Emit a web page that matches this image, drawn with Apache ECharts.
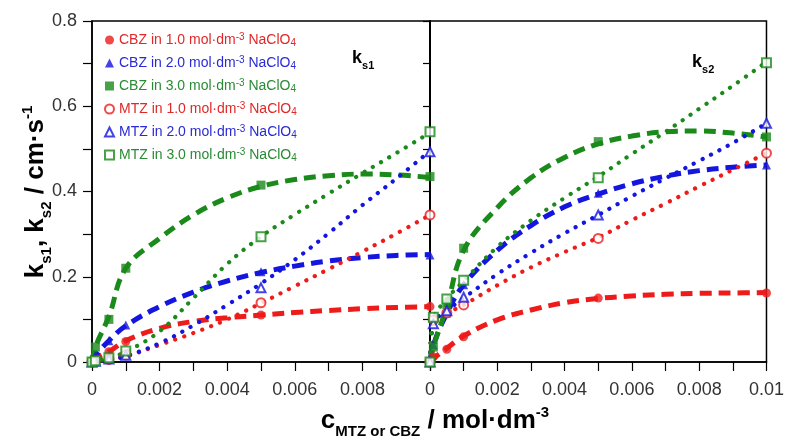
<!DOCTYPE html>
<html>
<head>
<meta charset="utf-8">
<script src="https://cdn.jsdelivr.net/npm/echarts@6/dist/echarts.min.js"></script>
<style>html,body{margin:0;padding:0;background:#fff}#c{width:787px;height:441px}</style>
</head>
<body>
<div id="c"></div>
<script>
// measured concentrations (mol dm^-3)
var conc = [0, 0.0001, 0.0005, 0.001, 0.005, 0.01];
var fitX = [0, 0.0001, 0.0005, 0.001, 0.002, 0.003, 0.004, 0.005, 0.006, 0.007, 0.008, 0.009, 0.01];
var xTicks = ['0', '0.002', '0.004', '0.006', '0.008', '0.01'];
var yTicks = ['0', '0.2', '0.4', '0.6', '0.8'];
var seriesNames = [
  'CBZ in 1.0 mol·dm-3 NaClO4',
  'CBZ in 2.0 mol·dm-3 NaClO4',
  'CBZ in 3.0 mol·dm-3 NaClO4',
  'MTZ in 1.0 mol·dm-3 NaClO4',
  'MTZ in 2.0 mol·dm-3 NaClO4',
  'MTZ in 3.0 mol·dm-3 NaClO4'
];
// ks1 (left panel) measured points
var ks1_CBZ1 = [0, 0.008, 0.024, 0.048, 0.110, 0.130];
var ks1_CBZ2 = [0, 0.015, 0.050, 0.087, 0.212, 0.251];
var ks1_CBZ3 = [0, 0.035, 0.100, 0.220, 0.415, 0.435];
var ks1_MTZ1 = [0, 0.002, 0.006, 0.017, 0.139, 0.345];
var ks1_MTZ2 = [0, 0.002, 0.007, 0.016, 0.174, 0.493];
var ks1_MTZ3 = [0, 0.003, 0.010, 0.026, 0.294, 0.540];
// ks1 fitted curves (read at fitX)
var fit1_CBZ1 = [0, 0.008, 0.024, 0.050, 0.079, 0.095, 0.104, 0.110, 0.116, 0.121, 0.125, 0.128, 0.130];
var fit1_CBZ2 = [0, 0.015, 0.050, 0.085, 0.130, 0.164, 0.190, 0.210, 0.225, 0.237, 0.245, 0.250, 0.252];
var fit1_CBZ3 = [0, 0.035, 0.107, 0.220, 0.290, 0.345, 0.385, 0.412, 0.428, 0.437, 0.441, 0.439, 0.433];
var fit1_MTZ1 = [0, 0.001, 0.006, 0.013, 0.040, 0.068, 0.100, 0.138, 0.178, 0.218, 0.259, 0.301, 0.345];
var fit1_MTZ2 = [0, 0.001, 0.006, 0.014, 0.044, 0.086, 0.134, 0.184, 0.240, 0.302, 0.368, 0.430, 0.495];
var fit1_MTZ3 = [0, 0.002, 0.010, 0.024, 0.072, 0.150, 0.230, 0.294, 0.346, 0.395, 0.443, 0.490, 0.538];
// ks2 (right panel) measured points
var ks2_CBZ1 = [0, 0.012, 0.030, 0.059, 0.150, 0.162];
var ks2_CBZ2 = [0, 0.040, 0.115, 0.181, 0.396, 0.462];
var ks2_CBZ3 = [0, 0.035, 0.135, 0.267, 0.517, 0.528];
var ks2_MTZ1 = [0, 0.098, 0.115, 0.134, 0.290, 0.490];
var ks2_MTZ2 = [0, 0.090, 0.120, 0.152, 0.345, 0.560];
var ks2_MTZ3 = [0, 0.105, 0.148, 0.192, 0.432, 0.702];
// ks2 fitted curves (read at fitX)
var fit2_CBZ1 = [0, 0.008, 0.032, 0.061, 0.099, 0.122, 0.139, 0.149, 0.155, 0.159, 0.161, 0.162, 0.163];
var fit2_CBZ2 = [0, 0.040, 0.114, 0.181, 0.262, 0.320, 0.364, 0.394, 0.418, 0.436, 0.449, 0.457, 0.462];
var fit2_CBZ3 = [0, 0.035, 0.130, 0.262, 0.362, 0.432, 0.480, 0.512, 0.530, 0.540, 0.542, 0.537, 0.528];
var fit2_MTZ1 = [0, 0.098, 0.115, 0.134, 0.180, 0.222, 0.258, 0.292, 0.333, 0.372, 0.412, 0.451, 0.490];
var fit2_MTZ2 = [0, 0.090, 0.120, 0.150, 0.206, 0.256, 0.302, 0.345, 0.389, 0.431, 0.472, 0.514, 0.560];
var fit2_MTZ3 = [0, 0.100, 0.148, 0.190, 0.270, 0.332, 0.385, 0.435, 0.488, 0.540, 0.594, 0.648, 0.704];

var RED = '#ee1b1b', BLUE = '#1515e0', GREEN = '#1a8a1a';
var colors = [RED, BLUE, GREEN, RED, BLUE, GREEN];
var symbols = ['circle', 'triangle', 'rect', 'emptyCircle', 'emptyTriangle', 'emptyRect'];
var panels = [
  { pts: [ks1_CBZ1, ks1_CBZ2, ks1_CBZ3, ks1_MTZ1, ks1_MTZ2, ks1_MTZ3],
    fit: [fit1_CBZ1, fit1_CBZ2, fit1_CBZ3, fit1_MTZ1, fit1_MTZ2, fit1_MTZ3] },
  { pts: [ks2_CBZ1, ks2_CBZ2, ks2_CBZ3, ks2_MTZ1, ks2_MTZ2, ks2_MTZ3],
    fit: [fit2_CBZ1, fit2_CBZ2, fit2_CBZ3, fit2_MTZ1, fit2_MTZ2, fit2_MTZ3] }
];

function pairs(xs, ys) { return xs.map(function (x, i) { return [x, ys[i]]; }); }

var series = [];
panels.forEach(function (p, panel) {
  p.fit.forEach(function (ys, k) {
    var dashed = k < 3;
    series.push({
      name: seriesNames[k] + ' fit', type: 'line',
      xAxisIndex: panel, yAxisIndex: panel === 0 ? 0 : 2,
      data: pairs(fitX, ys), smooth: 0.4, showSymbol: false, symbol: 'none',
      lineStyle: dashed ? { width: 5, type: [12, 7], color: colors[k] }
                        : { width: 4.2, type: [0.1, 9.5], cap: 'round', color: colors[k] },
      z: dashed ? 3 : 4, silent: true
    });
  });
  p.pts.forEach(function (ys, k) {
    series.push({
      name: seriesNames[k], type: 'scatter',
      xAxisIndex: panel, yAxisIndex: panel === 0 ? 0 : 2,
      data: pairs(conc, ys), symbol: symbols[k], symbolSize: 9,
      itemStyle: { color: colors[k], borderWidth: k < 3 ? 0 : 1 },
      z: 5
    });
  });
});

var legTxt = ['#e02828', '#2a2ad6', '#2a8a36'];
var richLeg = {};
['r', 'b', 'g'].forEach(function (k, i) {
  var c = legTxt[i];
  richLeg[k] = { color: c, fontSize: 14, fontFamily: 'Liberation Sans', lineHeight: 16 };
  richLeg[k + 'p'] = { color: c, fontSize: 10, fontFamily: 'Liberation Sans', verticalAlign: 'top', lineHeight: 16, padding: [0, 0, 7, 0] };
  richLeg[k + 'b'] = { color: c, fontSize: 10, fontFamily: 'Liberation Sans', verticalAlign: 'bottom', lineHeight: 16, padding: [6, 0, 0, 0] };
});
var keyOf = ['r', 'b', 'g', 'r', 'b', 'g'];

var axisLabelStyle = { fontSize: 18, color: '#333', fontFamily: 'Liberation Sans' };
var blackLine = { color: '#000', width: 1.5 };
var tickLine = { color: '#000', width: 1.2 };

function xAxis(grid, showMax) {
  return {
    type: 'value', gridIndex: grid, min: 0, max: 0.01, interval: 0.002,
    axisLine: { show: true, lineStyle: blackLine },
    axisTick: { show: true, length: 9, lineStyle: tickLine },
    minorTick: { show: true, splitNumber: 2, length: 9, lineStyle: tickLine },
    splitLine: { show: false },
    axisLabel: Object.assign({ margin: 19, showMaxLabel: showMax,
      formatter: function (v) { return xTicks[Math.round(v / 0.002)]; } }, axisLabelStyle)
  };
}

var option = {
  animation: false,
  backgroundColor: '#fff',
  grid: [
    { left: 92, top: 21, width: 338, height: 341, show: true, borderColor: '#000', borderWidth: 1.5 },
    { left: 430, top: 21, width: 338, height: 341, show: true, borderColor: '#000', borderWidth: 1.5 }
  ],
  xAxis: [xAxis(0, false), xAxis(1, true)],
  yAxis: [
    { type: 'value', gridIndex: 0, min: 0, max: 0.8, interval: 0.2, position: 'left',
      axisLine: { show: true, lineStyle: blackLine },
      axisTick: { show: true, length: 9, lineStyle: tickLine },
      minorTick: { show: true, splitNumber: 2, length: 9, lineStyle: tickLine },
      splitLine: { show: false },
      axisLabel: Object.assign({ margin: 15,
        formatter: function (v) { return yTicks[Math.round(v / 0.2)]; } }, axisLabelStyle) },
    { type: 'value', gridIndex: 0, min: 0, max: 0.8, interval: 0.2, position: 'right',
      axisLine: { show: true, lineStyle: blackLine },
      axisTick: { show: true, inside: true, length: 7, lineStyle: tickLine },
      minorTick: { show: true, splitNumber: 2, length: 7, lineStyle: tickLine },
      splitLine: { show: false }, axisLabel: { show: false } },
    { type: 'value', gridIndex: 1, min: 0, max: 0.8, interval: 0.2, position: 'left',
      axisLine: { show: true, lineStyle: blackLine },
      axisTick: { show: false }, splitLine: { show: false }, axisLabel: { show: false } }
  ],
  legend: {
    orient: 'vertical', left: 99, top: 27, itemGap: 6.0, itemWidth: 9, itemHeight: 9,
    selectedMode: false,
    data: seriesNames.map(function (n, i) { return { name: n, icon: symbols[i] }; }),
    formatter: function (name) {
      var i = seriesNames.indexOf(name), k = keyOf[i];
      var head = name.split(' mol')[0];
      return '{' + k + '|' + head + ' mol·dm}{' + k + 'p|-3}{' + k + '| NaClO}{' + k + 'b|4}';
    },
    textStyle: { rich: richLeg }
  },
  graphic: [
    { type: 'text', left: 352, top: 49, style: {
        text: '{k|k}{s|s1}', rich: {
          k: { fontSize: 18, fontWeight: 'bold', fontFamily: 'Liberation Sans', fill: '#000', lineHeight: 20 },
          s: { fontSize: 11, fontWeight: 'bold', fontFamily: 'Liberation Sans', fill: '#000', verticalAlign: 'bottom', lineHeight: 11, padding: [0, 0, -3, 0] } } } },
    { type: 'text', left: 692, top: 53, style: {
        text: '{k|k}{s|s2}', rich: {
          k: { fontSize: 18, fontWeight: 'bold', fontFamily: 'Liberation Sans', fill: '#000', lineHeight: 20 },
          s: { fontSize: 11, fontWeight: 'bold', fontFamily: 'Liberation Sans', fill: '#000', verticalAlign: 'bottom', lineHeight: 11, padding: [0, 0, -3, 0] } } } },
    { type: 'text', x: 36, y: 192, rotation: Math.PI / 2, style: {
        text: '{k|k}{s|s1}{k|, k}{s|s2}{k| / cm·s}{p|-1}', align: 'center', verticalAlign: 'middle',
        rich: {
          k: { fontSize: 26, fontWeight: 'bold', fontFamily: 'Liberation Sans', fill: '#000', lineHeight: 32 },
          s: { fontSize: 15, fontWeight: 'bold', fontFamily: 'Liberation Sans', fill: '#000', verticalAlign: 'bottom', lineHeight: 15, padding: [0, 0, -2, 0] },
          p: { fontSize: 15, fontWeight: 'bold', fontFamily: 'Liberation Sans', fill: '#000', verticalAlign: 'top', lineHeight: 15 } } } },
    { type: 'text', x: 435, y: 421, style: {
        text: '{k|c}{s|MTZ or CBZ}{k| / mol·dm}{p|-3}', align: 'center', verticalAlign: 'middle',
        rich: {
          k: { fontSize: 26, fontWeight: 'bold', fontFamily: 'Liberation Sans', fill: '#000', lineHeight: 32 },
          s: { fontSize: 15, fontWeight: 'bold', fontFamily: 'Liberation Sans', fill: '#000', verticalAlign: 'bottom', lineHeight: 15, padding: [0, 0, -2, 0] },
          p: { fontSize: 15, fontWeight: 'bold', fontFamily: 'Liberation Sans', fill: '#000', verticalAlign: 'top', lineHeight: 15 } } } }
  ],
  series: series
};
var chart = echarts.init(document.getElementById('c'), null, { renderer: 'canvas' });
chart.setOption(option);
</script>
</body>
</html>
